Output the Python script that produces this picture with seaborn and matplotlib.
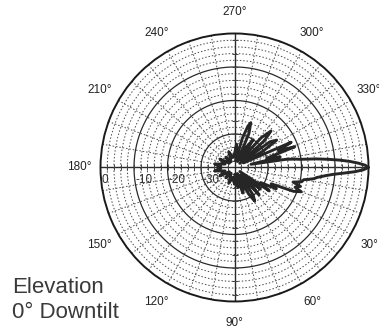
import numpy as np
import pandas as pd
import matplotlib
matplotlib.use("Agg")
import matplotlib.pyplot as plt
import seaborn as sns

# ---- data: elevation pattern (angle in degrees, gain in dB) ----
angles_deg = [-90, -85, -80, -75, -72, -70, -67, -64, -60, -56, -52, -48, -45, -42,
              -39, -36, -33, -30, -27, -24, -21, -19, -16, -13, -11, -9, -8, -7,
              -6, -5, -4, -3, -2, -1, 0, 1, 2, 3, 4, 5, 6, 7, 8, 9, 10, 12, 14,
              16, 18, 20, 22, 24, 27, 30, 34, 37, 40, 44, 48, 52, 56, 59, 62, 65,
              68, 72, 76, 80, 85, 90, 100, 110, 120, 130, 140, 150, 160, 170,
              180, 190, 200, 210, 220, 230, 240, 250, 260, 270]
gain_db = [-36, -33, -38, -31, -27, -25.8, -29, -38, -33, -30, -37, -28, -24.6, -28,
           -38, -27, -25, -30, -37, -21.5, -26, -21, -30, -26, -35, -24.5, -22, -20,
           -15.5, -12, -8.5, -5.5, -3, -1, 0, -1.5, -4, -7.5, -10.5, -12.5, -14, -15.3, -16, -17.5, -19, -19.5, -22,
           -19.5, -21, -18.8, -21, -28, -26, -31, -27.5, -38, -30, -35, -29, -37, -30, -28.3, -31, -38,
           -33, -32, -37, -34, -38, -35, -37, -35, -38, -36, -38, -35, -37, -34,
           -36, -34, -37, -35, -38, -36, -38, -35, -37, -36]

theta_ticks = [0, 30, 60, 90, 120, 150, 180, 210, 240, 270, 300, 330]
theta_labels = ["0°", "30°", "60°", "90°", "120°", "150°", "180°", "210°",
                "240°", "270°", "300°", "330°"]
ring_major = [-30, -20, -10, 0]
ring_labels = ["-30", "-20", "-10", "0"]
ring_minor = [-38, -36, -34, -32, -28, -26, -24, -22, -18, -16, -14, -12, -8, -6, -4, -2]
spokes_deg = list(range(0, 360, 10))
axis_ticks = [-38, -36, -34, -32, -30, -28, -26, -24, -22, -20, -18, -16, -14, -12,
              -10, -8, -6, -4, -2]

df = pd.DataFrame({"theta": np.deg2rad(angles_deg), "gain": gain_db})

sns.set_style("white")
plt.rcParams["font.family"] = ["Liberation Sans", "DejaVu Sans"]

fig = plt.figure(figsize=(3.79, 3.26), dpi=100)
ax = fig.add_axes([0.2652, 0.0752, 0.7071, 0.8221], projection="polar")
ax.set_theta_zero_location("E")
ax.set_theta_direction(-1)
ax.set_ylim(-40, 0)
ax.grid(False)

dark = "#2a2a2a"
gridc = "#4a4a4a"

# minor dotted rings
tt = np.linspace(0, 2 * np.pi, 400)
for r in ring_minor:
    ax.plot(tt, np.full_like(tt, r), color=gridc, lw=0.7, ls=(0, (1.5, 2.0)), zorder=1)
for r in ring_major[:-1]:
    ax.plot(tt, np.full_like(tt, r), color=dark, lw=0.9, zorder=2)
# spokes
for s in spokes_deg:
    if s % 90 == 0:
        continue
    ax.plot([np.deg2rad(s)] * 2, [-36, 0], color=gridc, lw=0.7, ls=(0, (1.5, 2.0)), zorder=1)
# crosshair
for s in [0, 90, 180, 270]:
    ax.plot([np.deg2rad(s)] * 2, [-40, 0], color=dark, lw=1.0, zorder=2)
# axis tick marks
tk = dict(ls="none", ms=5, mew=0.7, color="#444444", zorder=2)
ax.plot([np.pi] * len(axis_ticks), axis_ticks, marker="|", **tk)
ax.plot([0.0] * len(axis_ticks), axis_ticks, marker="|", **tk)
ax.plot([np.pi / 2] * len(axis_ticks[::2]), axis_ticks[::2], marker="_", **tk)
ax.plot([3 * np.pi / 2] * len(axis_ticks[::2]), axis_ticks[::2], marker="_", **tk)

# pattern
sns.lineplot(data=df, x="theta", y="gain", ax=ax, sort=False, color="#262626",
             lw=2.1, zorder=5, legend=False)

ax.set_xlabel("")
ax.set_ylabel("")
ax.set_yticks([])
ax.set_xticks(np.deg2rad(theta_ticks))
ax.set_xticklabels(theta_labels, fontsize=8.5, color="#222222")
ax.tick_params(axis="x", pad=5)
ax.spines["polar"].set_linewidth(1.4)
ax.spines["polar"].set_color("#1a1a1a")

for r, lbl in zip(ring_major, ring_labels):
    ax.annotate(lbl, xy=(np.pi, r), xytext=(1, -9), textcoords="offset points",
                ha="left", va="center", fontsize=8.5, color="#333333", zorder=6)

fig.text(0.032, 0.101, "Elevation", fontsize=16, color="#3a3a3a", va="baseline")
fig.text(0.032, 0.0245, "0° Downtilt", fontsize=16, color="#3a3a3a", va="baseline")

fig.savefig("out.png", dpi=100)
